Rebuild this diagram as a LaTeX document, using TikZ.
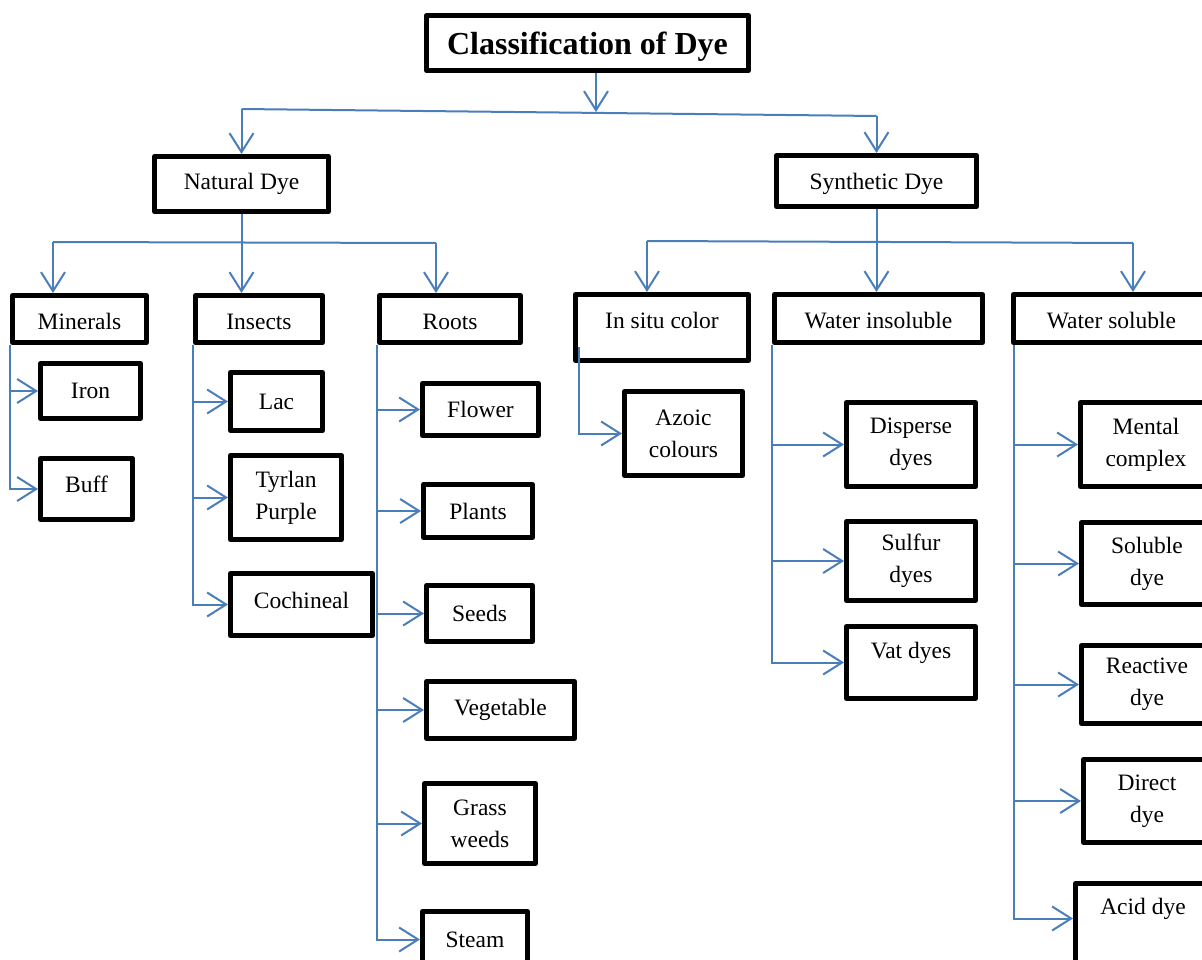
\documentclass[tikz,border=0pt]{standalone}
\usepackage{fontspec}
\setmainfont{Liberation Serif}
\usetikzlibrary{arrows.meta}
\definecolor{linkblue}{RGB}{74,126,187}

\begin{document}
\begin{tikzpicture}[x=1pt, y=-1pt,
    box/.style = {draw, line width=5pt, line join=round, fill=white, align=center, inner sep=2pt, font=\fontsize{23.5}{32}\selectfont},
    sz/.style 2 args = {minimum width=#1pt, minimum height=#2pt},
    low/.style = {text height=#1, text depth=0pt},
    link/.style = {draw=linkblue, line width=2pt},
    arr/.style = {link, -{Straight Barb[length=19pt, width=24pt]}}]
    \useasboundingbox (0,0) rectangle (1202,960);

    % top levels
    \node[box, sz={322}{55}, low=24pt, font=\fontsize{32}{38}\bfseries] (title) at (587.5,43) {Classification of Dye};
    \node[box, sz={174}{55}] (nat) at (241.5,184) {Natural Dye};
    \node[box, sz={200}{51}, low=18pt] (syn) at (876.5,181) {Synthetic Dye};

    \node[box, sz={134}{47}, low=20pt] (min) at (79.5,319) {Minerals};
    \node[box, sz={127}{47}, low=20pt] (ins) at (259,319) {Insects};
    \node[box, sz={141}{47}, low=20pt] (roots) at (450,319) {Roots};
    \node[box, sz={173}{66}, text depth=14pt] (insitu) at (662,327.5) {In situ color};
    \node[box, sz={208}{48}, low=19pt] (winsol) at (878.5,318.5) {Water insoluble};
    \node[box, sz={196}{48}, low=19pt] (wsol) at (1111.5,318.5) {Water soluble};

    % natural dye groups
    \node[box, sz={100}{55}] (iron) at (90.5,391) {Iron};
    \node[box, sz={92}{61}, text depth=10pt] (buff) at (86.5,489) {Buff};
    \node[box, sz={92}{58}] (lac) at (276.5,401.5) {Lac};
    \node[box, sz={111}{84}] (tyrlan) at (286,497.5) {Tyrlan\\Purple};
    \node[box, sz={142}{62}, text depth=8pt] (coch) at (301.5,604.5) {Cochineal};
    \node[box, sz={116}{52}] (flower) at (480.5,409.5) {Flower};
    \node[box, sz={109}{53}] (plants) at (478,511) {Plants};
    \node[box, sz={106}{56}] (seeds) at (479.5,613.5) {Seeds};
    \node[box, sz={148}{57}] (veg) at (500.5,710) {Vegetable};
    \node[box, sz={111}{80}] (grass) at (480,823.5) {Grass\\weeds};
    \node[box, sz={105}{56}] (steam) at (475,939.5) {Steam};

    % synthetic dye groups
    \node[box, sz={118}{84}] (azoic) at (683.5,433.5) {Azoic\\colours};
    \node[box, sz={129}{84}] (disp) at (911,444.5) {Disperse\\dyes};
    \node[box, sz={129}{79}] (sulf) at (911,561) {Sulfur\\dyes};
    \node[box, sz={129}{72}, text depth=25pt] (vat) at (911,662.5) {Vat dyes};
    \node[box, sz={131}{84}] (mental) at (1146,444.5) {Mental\\complex};
    \node[box, sz={131}{82}] (solub) at (1147,563.5) {Soluble\\dye};
    \node[box, sz={131}{78}] (react) at (1147,684.5) {Reactive\\dye};
    \node[box, sz={127}{83}] (direct) at (1147,801) {Direct\\dye};
    \node[box, sz={135}{104}, text depth=58pt] (acid) at (1143,935.5) {Acid dye};

    % joints
    \coordinate (tmid) at (596,112);
    \coordinate (tl) at (241.5,109);
    \coordinate (tr) at (876.5,116);
    \coordinate (nl) at (53,242);
    \coordinate (nr) at (436,243);
    \coordinate (sl) at (647,241);
    \coordinate (sr) at (1133,243);
    \coordinate (insitustart) at (579,347);

    % first split
    \draw[arr] (title.south -| tmid) -- (tmid);
    \draw[link] (tl) -- (tr);
    \draw[arr] (tl) -- (nat);
    \draw[arr] (tr) -- (syn);

    % natural dye split
    \draw[arr] (nat.south) -- (nat.south |- ins.north);
    \draw[link] (nl) -- (nr);
    \draw[arr] (nl) -- (nl |- min.north);
    \draw[arr] (nr) -- (nr |- roots.north);

    % synthetic dye split
    \draw[arr] (syn.south) -- (syn.south |- winsol.north);
    \draw[link] (sl) -- (sr);
    \draw[arr] (sl) -- (sl |- insitu.north);
    \draw[arr] (sr) -- (sr |- wsol.north);

    % lists
    \foreach \n in {iron, buff} \draw[arr] (min.south west) |- (\n);
    \foreach \n in {lac, tyrlan, coch} \draw[arr] (ins.south west) |- (\n);
    \foreach \n in {flower, plants, seeds, veg, grass, steam} \draw[arr] (roots.south west) |- (\n);
    \draw[arr] (insitustart) |- (azoic);
    \foreach \n in {disp, sulf, vat} \draw[arr] (winsol.south west) |- (\n);
    \foreach \n in {mental, solub, react, direct} \draw[arr] ([xshift=3pt]wsol.south west) |- (\n);
    \draw[arr] ([xshift=3pt]wsol.south west) |- ([yshift=17pt]acid.west);
\end{tikzpicture}
\end{document}
